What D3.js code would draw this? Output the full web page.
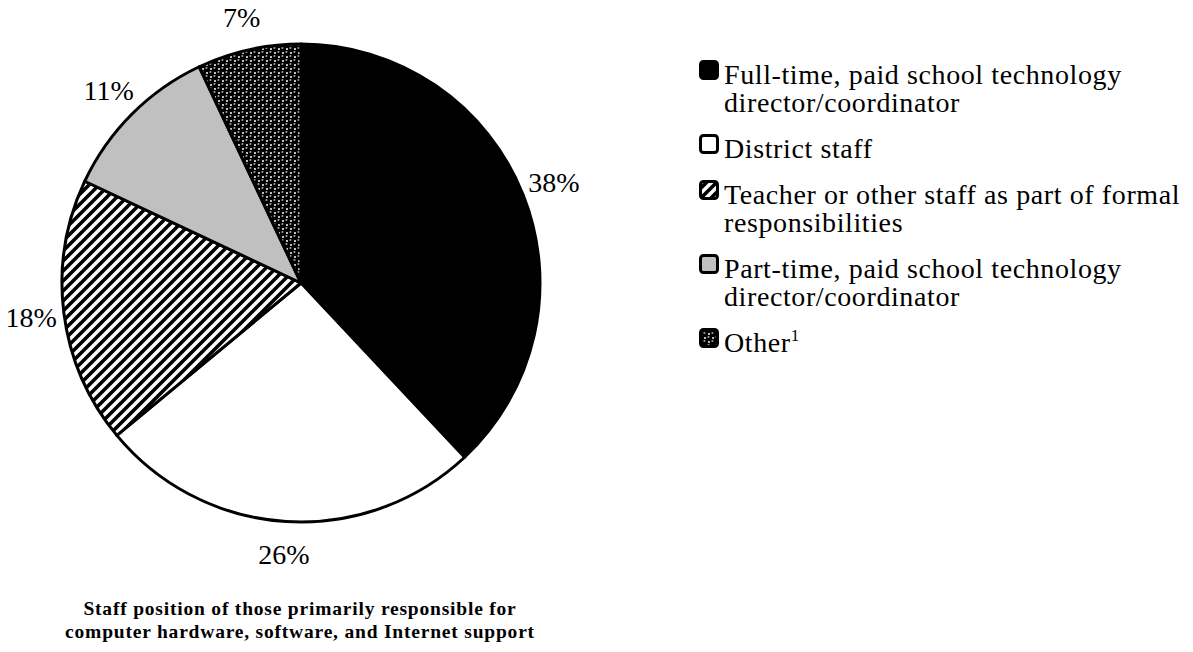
<!DOCTYPE html>
<html>
<head>
<meta charset="utf-8">
<script src="https://cdn.jsdelivr.net/npm/d3@7"></script>
<style>
    body { margin: 0; background: #fff; }
    svg text { font-family: "Liberation Serif", "Times New Roman", Times, "DejaVu Serif", serif; }
</style>
</head>
<body>
<div id="chart"></div>
<script>
// Data
const categories = [
    "Full-time, paid school technology director/coordinator",
    "District staff",
    "Teacher or other staff as part of formal responsibilities",
    "Part-time, paid school technology director/coordinator",
    "Other"
];
const legendLines = [
    ["Full-time, paid school technology", "director/coordinator"],
    ["District staff"],
    ["Teacher or other staff as part of formal", "responsibilities"],
    ["Part-time, paid school technology", "director/coordinator"],
    ["Other"]
];
const footnotes = ["", "", "", "", "1"];
const values = [38, 26, 18, 11, 7];
const titleLines = [
    "Staff position of those primarily responsible for",
    "computer hardware, software, and Internet support"
];

const width = 1193, height = 652;
const cx = 301, cy = 283, radius = 239, labelRadius = 272;
const serif = "'Liberation Serif', 'Times New Roman', Times, 'DejaVu Serif', serif";

const svg = d3.select("#chart").append("svg")
    .attr("width", width)
    .attr("height", height)
    .attr("font-family", serif);

// Fill patterns
const defs = svg.append("defs");

const stripes = defs.append("pattern")
    .attr("id", "stripes")
    .attr("patternUnits", "userSpaceOnUse")
    .attr("width", 10)
    .attr("height", 10);
stripes.append("rect").attr("width", 10).attr("height", 10).attr("fill", "#fff");
stripes.append("path")
    .attr("d", "M-2,2 L2,-2 M0,10 L10,0 M8,12 L12,8")
    .attr("stroke", "#000")
    .attr("stroke-width", 3.6);

const dots = defs.append("pattern")
    .attr("id", "dots")
    .attr("patternUnits", "userSpaceOnUse")
    .attr("width", 8)
    .attr("height", 8);
dots.append("rect").attr("width", 8).attr("height", 8).attr("fill", "#fff");
[[2, 2], [6, 6], [6, -2], [-2, 6], [10, 2], [2, 10], [-2, -2], [10, 10], [10, -2], [-2, 10]].forEach(([x, y]) => {
    dots.append("circle").attr("cx", x).attr("cy", y).attr("r", 3.2).attr("fill", "#000");
    dots.append("circle").attr("cx", x - 0.6).attr("cy", y - 1).attr("r", 1.1).attr("fill", "#999");
});

const fills = ["#000", "#fff", "url(#stripes)", "#c0c0c0", "url(#dots)"];

// Pie
const pie = d3.pie().sort(null).value(d => d)(values);
const arc = d3.arc().innerRadius(0).outerRadius(radius);
const labelArc = d3.arc().innerRadius(labelRadius).outerRadius(labelRadius);

const g = svg.append("g").attr("transform", `translate(${cx},${cy})`);

g.selectAll("path.slice")
    .data(pie)
    .join("path")
    .attr("class", "slice")
    .attr("d", arc)
    .attr("fill", (d, i) => fills[i])
    .attr("stroke", "#000")
    .attr("stroke-width", 3)
    .attr("stroke-linejoin", "round");

g.selectAll("text.pct")
    .data(pie)
    .join("text")
    .attr("class", "pct")
    .attr("transform", d => `translate(${labelArc.centroid(d)})`)
    .attr("text-anchor", "middle")
    .attr("dominant-baseline", "central")
    .attr("font-size", "28px")
    .attr("fill", "#000")
    .text(d => d.data + "%");

// Legend
const legend = svg.append("g").attr("transform", "translate(699,0)");
const lineHeight = 28, entryGap = 18;
let baseline = 84;

legendLines.forEach((lines, i) => {
    const item = legend.append("g");

    item.append("rect")
        .attr("x", 1.5)
        .attr("y", baseline - 22.5)
        .attr("width", 17)
        .attr("height", 17)
        .attr("rx", 3)
        .attr("fill", fills[i])
        .attr("stroke", "#000")
        .attr("stroke-width", 3);

    // one text element per line keeps each line's box separate
    lines.forEach((line, j) => {
        const text = item.append("text")
            .attr("x", 25)
            .attr("y", baseline + j * lineHeight)
            .attr("font-size", "28px")
            .attr("letter-spacing", "0.6px")
            .attr("fill", "#000")
            .text(line);

        if (footnotes[i] && j === lines.length - 1) {
            text.append("tspan")
                .attr("font-size", "17px")
                .attr("dy", -11)
                .text(footnotes[i]);
        }
    });

    baseline += lines.length * lineHeight + entryGap;
});

// Title under the pie
const title = svg.append("g")
    .attr("text-anchor", "middle")
    .attr("font-size", "19.5px")
    .attr("font-weight", "bold")
    .attr("letter-spacing", "0.8px")
    .attr("fill", "#000");

titleLines.forEach((line, i) => {
    title.append("text")
        .attr("x", 300)
        .attr("y", 615 + i * 23)
        .text(line);
});
</script>
</body>
</html>
